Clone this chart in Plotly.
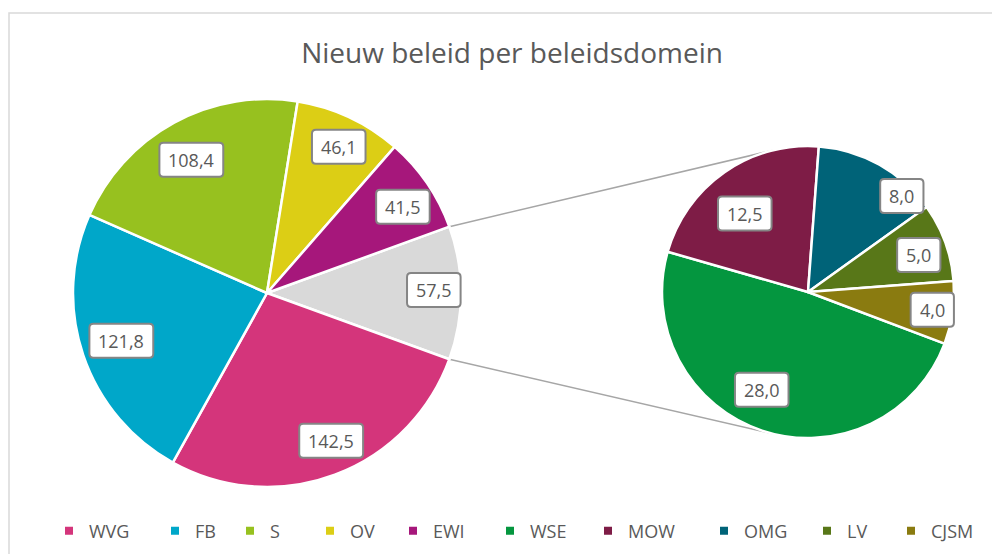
import math
import plotly.graph_objects as go

# ---------------- data ----------------
main_labels = ["Overig", "WVG", "FB", "S", "OV", "EWI"]
main_values = [57.5, 142.5, 121.8, 108.4, 46.1, 41.5]
main_colors = ["#D9D9D9", "#D4357B", "#00A7C9", "#97C11F", "#DCCE15", "#A6177B"]

sec_labels = ["WSE", "MOW", "OMG", "LV", "CJSM"]
sec_values = [28.0, 12.5, 8.0, 5.0, 4.0]
sec_colors = ["#04963F", "#7E1C46", "#006378", "#587718", "#8A7B10"]

legend_labels = ["WVG", "FB", "S", "OV", "EWI", "WSE", "MOW", "OMG", "LV", "CJSM"]

title_text = "Nieuw beleid per beleidsdomein"

# ---------------- layout geometry (screen pixels) ----------------
OFF = 8                      # page body margin
W, H = 992, 546              # figure size
MAIN_C, MAIN_R, MAIN_ROT = (267, 293), 194, 70
SEC_C, SEC_R, SEC_ROT = (808, 292), 146, 110.7
FONT = "Open Sans"
FS = 18
TXT = "#595959"

color_of = dict(zip(main_labels + sec_labels, main_colors + sec_colors))


def px(x, y):
    return (x - OFF) / W, 1 - (y - OFF) / H


def dom(c, r):
    x0, y1 = px(c[0] - r, c[1] - r)
    x1, y0 = px(c[0] + r, c[1] + r)
    return dict(x=[x0, x1], y=[y0, y1])


def point(c, r, ang):
    a = math.radians(ang)
    return c[0] + r * math.sin(a), c[1] - r * math.cos(a)


def mids(values, rot):
    tot = sum(values)
    out, cum = [], 0
    for v in values:
        out.append(rot + (cum + v / 2) / tot * 360)
        cum += v
    return out


def text_w(s):
    return sum((0.26 if ch == "," else 0.572) for ch in s) * FS


def rounded_box(cx, cy, w, h, r=4):
    x0, x1, y0, y1 = cx - w / 2, cx + w / 2, cy - h / 2, cy + h / 2
    pts = [("M", (x0 + r, y0)), ("L", (x1 - r, y0)), ("Q", (x1, y0), (x1, y0 + r)),
           ("L", (x1, y1 - r)), ("Q", (x1, y1), (x1 - r, y1)), ("L", (x0 + r, y1)),
           ("Q", (x0, y1), (x0, y1 - r)), ("L", (x0, y0 + r)), ("Q", (x0, y0), (x0 + r, y0))]
    out = []
    for cmd, *ps in pts:
        coords = " ".join("%.6f,%.6f" % px(*p) for p in ps)
        out.append(f"{cmd}{coords}")
    return " ".join(out) + " Z"


fig = go.Figure()
fig.add_trace(go.Pie(
    labels=main_labels, values=main_values, sort=False, direction="clockwise",
    rotation=MAIN_ROT, textinfo="none", showlegend=False,
    marker=dict(colors=main_colors, line=dict(color="white", width=2.5)),
    domain=dom(MAIN_C, MAIN_R), hoverinfo="label+value",
))
fig.add_trace(go.Pie(
    labels=sec_labels, values=sec_values, sort=False, direction="clockwise",
    rotation=SEC_ROT, textinfo="none", showlegend=False,
    marker=dict(colors=sec_colors, line=dict(color="white", width=2.5)),
    domain=dom(SEC_C, SEC_R), hoverinfo="label+value",
))


def fmt(v):
    return f"{v:.1f}".replace(".", ",")


annotations = []
shapes = []


def add_label(v, x, y):
    s = fmt(v)
    shapes.append(dict(type="path", xref="paper", yref="paper", layer="above",
                       path=rounded_box(x, y, text_w(s) + 18, 34, 4),
                       fillcolor="white", line=dict(color="#858585", width=2)))
    X, Y = px(x, y)
    annotations.append(dict(text=s, x=X, y=Y, showarrow=False, xref="paper", yref="paper",
                            xanchor="center", yanchor="middle",
                            font=dict(family=FONT, size=FS, color=TXT)))


main_k = [0.86, 0.83, 0.79, 0.79, 0.84, 0.83]
main_nudge = [-1, -3, 0.5, -1, 1, 2]
for v, m, k, n in zip(main_values, mids(main_values, MAIN_ROT), main_k, main_nudge):
    add_label(v, *point(MAIN_C, k * MAIN_R, m + n))

sec_k = [0.74, 0.69, 0.92, 0.80, 0.86]
sec_nudge = [7, -4, 15, 1.5, 0]
for v, m, k, n in zip(sec_values, mids(sec_values, SEC_ROT), sec_k, sec_nudge):
    add_label(v, *point(SEC_C, k * SEC_R, m + n))

# connector lines: from edges of "Overig" slice to tangents of secondary pie
tot = sum(main_values)
edge_angles = [MAIN_ROT, MAIN_ROT + main_values[0] / tot * 360]
for i, ea in enumerate(edge_angles):
    p = point(MAIN_C, MAIN_R, ea)
    dx, dy = p[0] - SEC_C[0], p[1] - SEC_C[1]
    D = math.hypot(dx, dy)
    phi = math.atan2(dy, dx)
    d = math.acos(SEC_R / D)
    cands = [(SEC_C[0] + SEC_R * math.cos(phi + s * d), SEC_C[1] + SEC_R * math.sin(phi + s * d)) for s in (1, -1)]
    t = min(cands, key=lambda q: q[1]) if i == 0 else max(cands, key=lambda q: q[1])
    x0, y0 = px(*p)
    x1, y1 = px(*t)
    shapes.append(dict(type="line", xref="paper", yref="paper", x0=x0, y0=y0, x1=x1, y1=y1,
                       line=dict(color="#A6A6A6", width=1.5), layer="below"))

# chart frame
bx0, by0 = px(OFF + 1, 13)
bx1, by1 = px(1010, 570)
shapes.append(dict(type="rect", xref="paper", yref="paper", x0=bx0, y0=by1, x1=bx1, y1=by0,
                   line=dict(color="#D9D9D9", width=1.5), layer="below"))

# legend (one small legend per entry to mimic spacing)
legend_x = [70, 176, 251, 331, 414, 511, 609, 725, 828, 912]
layout_legends = {}
for i, (lab, lxp) in enumerate(zip(legend_labels, legend_x)):
    lid = "legend" if i == 0 else f"legend{i + 1}"
    fig.add_trace(go.Scatter(
        x=[None], y=[None], mode="markers", name=lab, legend=lid,
        marker=dict(symbol="square", size=8, color=color_of[lab]),
    ))
    lx, ly = px(lxp - 21, 531)
    layout_legends[lid] = dict(
        x=lx, xanchor="left", y=ly, yanchor="middle",
        orientation="h", bgcolor="rgba(0,0,0,0)", borderwidth=0,
        font=dict(family=FONT, size=18, color=TXT), itemwidth=30,
    )

tx, ty = px(512, 53)
fig.update_layout(
    width=W, height=H, margin=dict(l=0, r=0, t=0, b=0),
    paper_bgcolor="white", plot_bgcolor="white",
    title=dict(text=title_text, x=tx, xanchor="center", y=ty, yanchor="middle",
               font=dict(family=FONT, size=28, color=TXT)),
    xaxis=dict(visible=False), yaxis=dict(visible=False),
    annotations=annotations, shapes=shapes,
    **layout_legends,
)

fig.write_html("out.html")
